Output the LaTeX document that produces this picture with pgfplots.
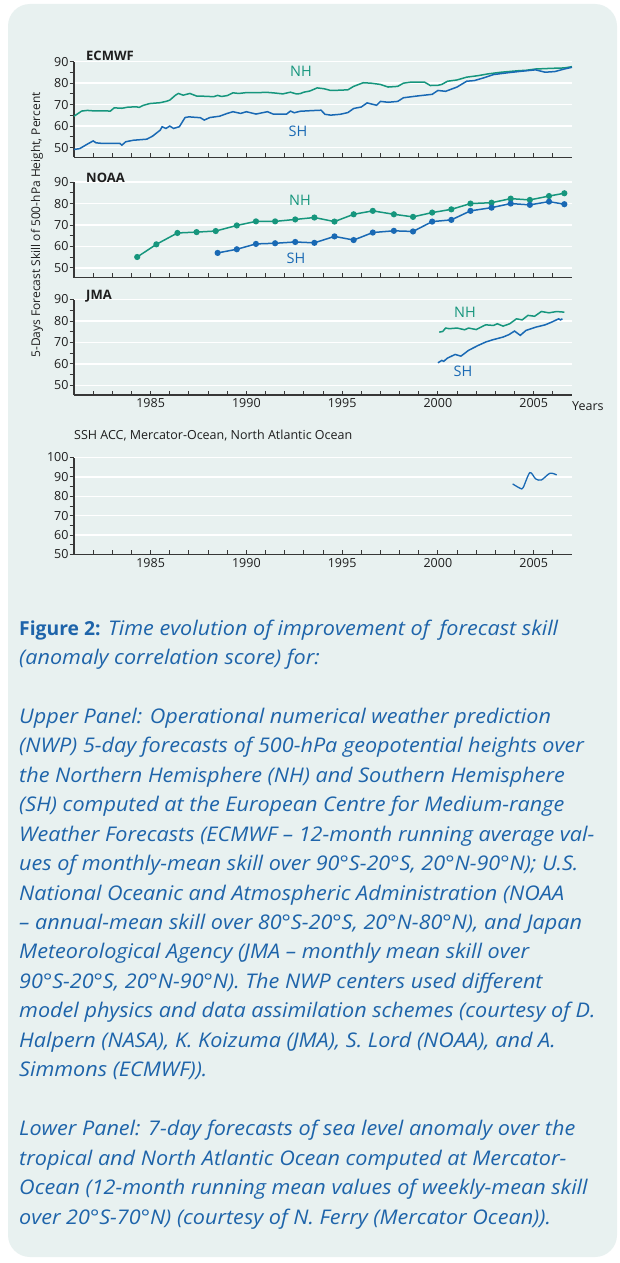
\documentclass[border=0pt]{standalone}
\usepackage{fontspec}
\setmainfont{Open Sans}
\newfontfamily\capfont[FakeStretch=1.07]{Open Sans}
\usepackage{pgfplots}
\pgfplotsset{compat=1.18}
\definecolor{bg}{RGB}{232,241,240}
\definecolor{nh}{RGB}{22,150,125}
\definecolor{sh}{RGB}{25,105,180}
\definecolor{capc}{RGB}{30,100,170}
\definecolor{axc}{RGB}{55,55,55}
\definecolor{txt}{RGB}{30,30,30}

\pgfplotsset{
  panel/.style={
    scale only axis, width=498pt, height=95.5pt,
    xmin=1981, xmax=2007, ymin=45.5, ymax=90,
    axis x line*=bottom, axis y line*=left,
    axis line style={axc, line width=1.1pt},
    every tick/.style={axc, line width=0.9pt},
    tick align=inside,
    major tick length=4.5pt, minor tick length=4.5pt,
    ytick style={xshift=-4.5pt},
    xtick={1982,...,2006}, xticklabels={},
    ytick={50,60,...,90}, minor ytick={55,65,75,85},
    ymajorgrids, major grid style={white, line width=1.4pt},
    /pgf/number format/assume math mode=true,
    tick label style={font=\fontsize{12.5}{13}\selectfont, text=txt},
    yticklabel style={xshift=-2pt},
    clip=false,
  },
  yearlabels/.style={xticklabels={,,,1985,,,,,1990,,,,,1995,,,,,2000,,,,,2005,}},
  nhline/.style={nh, line width=1.5pt},
  shline/.style={sh, line width=1.5pt},
}

\begin{document}
\begin{tikzpicture}
\fill[white] (0pt,0pt) rectangle (619pt,-1263pt);
\fill[bg, rounded corners=22pt] (8pt,-4pt) rectangle (617pt,-1257pt);

% ECMWF
\begin{axis}[panel, at={(74pt,-157.2pt)}, anchor=south west]
\addplot[nhline] coordinates {
(1981.0,64.6)(1981.2,65.8)(1981.4,67.0)(1981.7,67.3)(1982.0,67.1)(1982.5,67.1)(1982.9,67.0)
(1983.1,68.5)(1983.5,68.3)(1983.8,68.8)(1984.25,69.0)(1984.4,68.7)(1984.6,69.6)(1984.95,70.5)
(1985.5,70.9)(1985.8,71.5)(1986.0,72.1)(1986.3,74.4)(1986.45,75.2)(1986.7,74.4)(1987.05,75.2)
(1987.4,74.0)(1987.8,73.9)(1988.3,73.7)(1988.5,74.3)(1988.7,73.8)(1989.0,74.2)(1989.3,75.5)
(1989.6,75.2)(1990.0,75.6)(1990.5,75.6)(1991.1,75.7)(1991.5,75.4)(1991.9,75.0)(1992.3,75.8)
(1992.6,75.0)(1992.8,75.1)(1993.0,75.8)(1993.3,76.3)(1993.7,77.8)(1994.05,77.4)(1994.4,76.6)
(1994.8,76.7)(1995.3,76.9)(1995.6,78.5)(1996.1,80.2)(1996.5,80.0)(1997.0,79.4)(1997.4,78.2)
(1997.9,78.5)(1998.2,80.0)(1998.6,80.5)(1999.3,80.5)(1999.6,78.9)(2000.0,79.0)(2000.2,79.4)
(2000.5,80.9)(2001.0,81.5)(2001.5,82.8)(2002.1,83.5)(2002.6,84.3)(2003.3,85.1)(2004.2,85.8)
(2004.6,86.0)(2005.1,86.6)(2005.9,86.9)(2006.6,87.1)(2007.0,87.7)};
\addplot[shline] coordinates {
(1981.0,49.1)(1981.3,49.5)(1981.6,51.1)(1982.0,53.1)(1982.15,52.2)(1982.5,51.9)(1983.0,51.9)
(1983.4,51.9)(1983.5,51.1)(1983.7,52.7)(1984.1,53.4)(1984.8,53.9)(1985.1,55.3)(1985.5,58.1)
(1985.6,59.7)(1985.8,58.9)(1986.0,60.0)(1986.2,58.9)(1986.5,59.7)(1986.8,64.0)(1987.0,64.3)
(1987.6,63.9)(1987.8,62.8)(1988.1,64.0)(1988.6,64.6)(1989.0,65.9)(1989.3,66.7)(1989.7,65.9)
(1990.0,66.7)(1990.5,65.6)(1991.1,66.7)(1991.4,65.6)(1992.1,65.6)(1992.3,67.0)(1992.5,66.2)
(1992.8,66.9)(1993.4,67.2)(1993.9,67.4)(1994.1,65.5)(1994.4,65.1)(1994.9,65.5)(1995.3,66.3)
(1995.6,68.2)(1996.0,68.9)(1996.3,70.8)(1996.8,69.7)(1997.0,71.5)(1997.4,71.1)(1997.9,71.5)
(1998.2,73.2)(1998.9,74.0)(1999.7,74.8)(2000.0,76.6)(2000.4,76.2)(2001.0,78.2)(2001.5,80.9)
(2001.9,81.2)(2002.4,82.5)(2002.9,84.0)(2003.6,84.8)(2004.3,85.5)(2005.1,86.2)(2005.6,85.1)
(2006.1,85.4)(2006.6,86.6)(2007.0,87.4)};
\end{axis}

% NOAA
\begin{axis}[panel, at={(74pt,-277.6pt)}, anchor=south west]
\addplot[nhline, mark=*, mark size=2.3pt, mark options={fill=nh, draw=nh}] coordinates {
(1984.3,55.1)(1985.3,61.0)(1986.4,66.3)(1987.4,66.7)(1988.4,67.2)(1989.5,69.8)(1990.5,71.7)
(1991.5,71.7)(1992.55,72.6)(1993.55,73.5)(1994.6,71.6)(1995.6,75.0)(1996.6,76.6)(1997.7,75.0)
(1998.7,73.8)(1999.7,75.8)(2000.7,77.3)(2001.7,80.0)(2002.8,80.4)(2003.8,82.3)(2004.8,81.7)
(2005.8,83.5)(2006.6,84.8)};
\addplot[shline, mark=*, mark size=2.3pt, mark options={fill=sh, draw=sh}] coordinates {
(1988.5,57.0)(1989.5,58.7)(1990.5,61.2)(1991.5,61.5)(1992.55,62.1)(1993.55,61.7)(1994.6,64.7)
(1995.6,63.0)(1996.6,66.5)(1997.7,67.3)(1998.7,67.0)(1999.7,71.6)(2000.7,72.4)(2001.7,76.6)
(2002.8,78.1)(2003.8,80.0)(2004.8,79.4)(2005.8,80.9)(2006.6,79.7)};
\end{axis}

% JMA
\begin{axis}[panel, yearlabels, at={(74pt,-395pt)}, anchor=south west]
\addplot[nhline] coordinates {
(2000.07,74.8)(2000.25,75.1)(2000.4,76.7)(2000.6,76.4)(2001.0,76.7)(2001.4,75.9)(2001.6,76.7)
(2002.0,76.0)(2002.35,77.6)(2002.5,78.2)(2002.9,77.9)(2003.1,78.7)(2003.4,77.6)(2003.75,78.7)
(2004.1,81.0)(2004.4,80.5)(2004.7,82.6)(2005.05,82.2)(2005.4,84.4)(2005.8,83.8)(2006.2,84.4)
(2006.6,84.1)};
\addplot[shline] coordinates {
(2000.0,60.5)(2000.2,61.6)(2000.3,61.2)(2000.5,62.7)(2000.9,64.4)(2001.2,63.6)(2001.6,66.3)
(2002.1,68.6)(2002.5,70.2)(2002.85,71.2)(2003.4,72.5)(2003.7,73.6)(2004.0,75.3)(2004.3,73.3)
(2004.6,75.6)(2005.1,77.1)(2005.6,78.2)(2005.95,79.5)(2006.3,81.0)(2006.4,80.5)(2006.5,81.0)};
\end{axis}

% SSH
\begin{axis}[panel, yearlabels, at={(74pt,-554.5pt)}, anchor=south west,
  height=97pt, ymin=50, ymax=100, ytick={50,60,...,100}, minor ytick={55,65,...,95}]
\addplot[shline, smooth, line width=1.3pt] coordinates {
(2003.9,86.4)(2004.3,84.1)(2004.45,84.5)(2004.8,92.2)(2005.1,89.0)(2005.4,88.4)(2005.85,91.9)(2006.2,91.0)};
\end{axis}

% panel titles and labels
\begin{scope}[every node/.style={inner sep=0pt}]
\node[anchor=west, font=\fontsize{13}{13}\selectfont\bfseries, text=txt] at (86pt,-56pt) {ECMWF};
\node[anchor=west, font=\fontsize{13}{13}\selectfont\bfseries, text=txt] at (86pt,-177.5pt) {NOAA};
\node[anchor=west, font=\fontsize{13}{13}\selectfont\bfseries, text=txt] at (86pt,-296.5pt) {JMA};
\node[font=\fontsize{14.5}{15}\selectfont, text=nh] at (301pt,-71pt) {NH};
\node[font=\fontsize{14.5}{15}\selectfont, text=sh] at (298pt,-131pt) {SH};
\node[font=\fontsize{14.5}{15}\selectfont, text=nh] at (300pt,-200.5pt) {NH};
\node[font=\fontsize{14.5}{15}\selectfont, text=sh] at (296pt,-258pt) {SH};
\node[font=\fontsize{14.5}{15}\selectfont, text=nh] at (465pt,-312.5pt) {NH};
\node[font=\fontsize{14.5}{15}\selectfont, text=sh] at (463pt,-371pt) {SH};
\node[anchor=west, font=\fontsize{12.5}{13}\selectfont, text=txt] at (572pt,-406pt) {Years};
\node[anchor=west, font=\fontsize{12.5}{13}\selectfont, text=txt] at (74pt,-436pt) {SSH ACC, Mercator-Ocean, North Atlantic Ocean};
\node[rotate=90, font=\fontsize{12}{13}\selectfont, text=txt] at (37pt,-225pt) {5-Days Forecast Skill of 500-hPa Height, Percent};
\end{scope}

% caption
\begin{scope}[every node/.style={anchor=base west, inner sep=0pt, text=capc, font=\capfont\fontsize{20.2}{21}\selectfont\itshape}]
\node at (19pt,-635pt) {{\setmainfont{Open Sans}\upshape\bfseries\fontsize{19.3}{21}\selectfont Figure 2:} Time evolution of improvement of\hspace{0.5em}forecast skill};
\node at (19pt,-664.45pt) {(anomaly correlation score) for:};
\node at (19pt,-723.35pt) {Upper Panel: Operational numerical weather prediction};
\node at (19pt,-752.8pt) {(NWP) 5-day forecasts of 500-hPa geopotential heights over};
\node at (19pt,-782.25pt) {the Northern Hemisphere (NH) and Southern Hemisphere};
\node at (19pt,-811.7pt) {(SH) computed at the European Centre for Medium-range};
\node at (19pt,-841.15pt) {Weather Forecasts (ECMWF – 12-month running average val-};
\node at (19pt,-870.6pt) {ues of monthly-mean skill over 90°S-20°S, 20°N-90°N); U.S.};
\node at (19pt,-900.05pt) {National Oceanic and Atmospheric Administration (NOAA};
\node at (19pt,-929.5pt) {– annual-mean skill over 80°S-20°S, 20°N-80°N), and Japan};
\node at (19pt,-958.95pt) {Meteorological Agency (JMA – monthly mean skill over};
\node at (19pt,-988.4pt) {90°S-20°S, 20°N-90°N). The NWP centers used different};
\node at (19pt,-1017.85pt) {model physics and data assimilation schemes (courtesy of D.};
\node at (19pt,-1047.3pt) {Halpern (NASA), K. Koizuma (JMA), S. Lord (NOAA), and A.};
\node at (19pt,-1076.75pt) {Simmons (ECMWF)).};
\node at (19pt,-1135.65pt) {Lower Panel: 7-day forecasts of sea level anomaly over the};
\node at (19pt,-1165.1pt) {tropical and North Atlantic Ocean computed at Mercator-};
\node at (19pt,-1194.55pt) {Ocean (12-month running mean values of weekly-mean skill};
\node at (19pt,-1224pt) {over 20°S-70°N) (courtesy of N. Ferry (Mercator Ocean)).};
\end{scope}
\end{tikzpicture}
\end{document}
